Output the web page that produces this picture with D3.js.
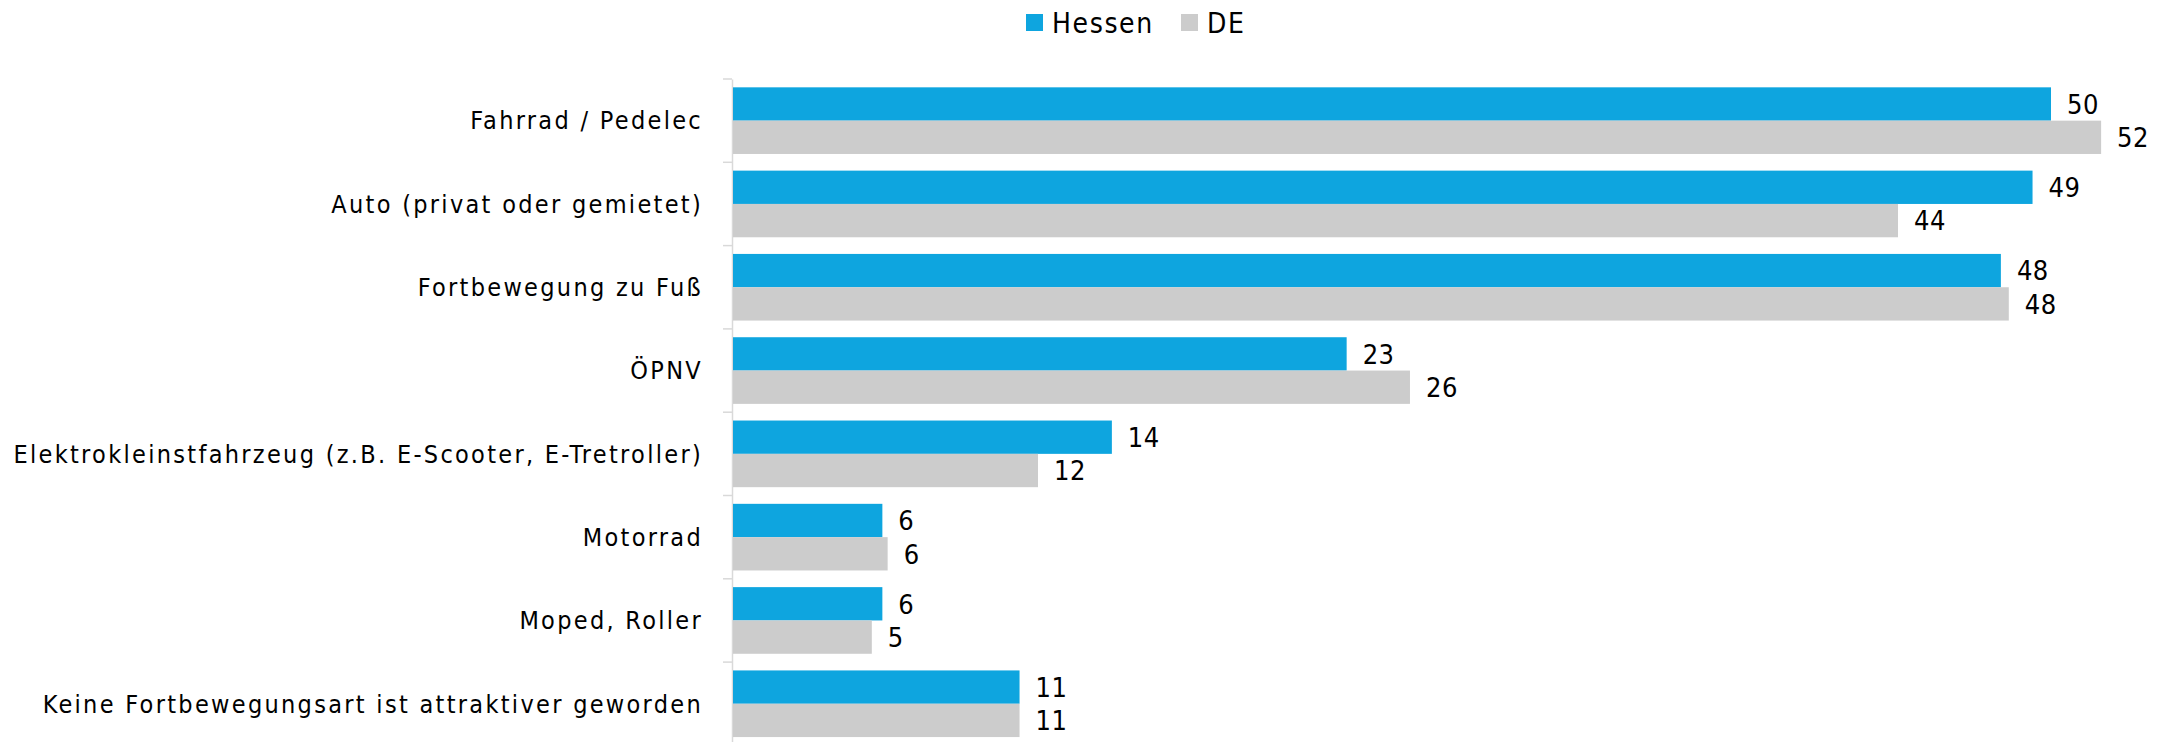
<!DOCTYPE html>
<html>
<head>
<meta charset="utf-8">
<script src="https://cdn.jsdelivr.net/npm/d3@7"></script>
<style>
  body { margin: 0; background: #fff; }
  text { font-family: "DejaVu Sans Condensed", "DejaVu Sans", sans-serif; font-stretch: condensed; fill: #000; }
</style>
</head>
<body>
<div id="chart"></div>
<script>
var categories = [
  "Fahrrad / Pedelec",
  "Auto (privat oder gemietet)",
  "Fortbewegung zu Fuß",
  "ÖPNV",
  "Elektrokleinstfahrzeug (z.B. E-Scooter, E-Tretroller)",
  "Motorrad",
  "Moped, Roller",
  "Keine Fortbewegungsart ist attraktiver geworden"
];
var seriesNames = ["Hessen", "DE"];
var hessen = [50.0, 49.3, 48.1, 23.3, 14.4, 5.7, 5.7, 10.9];
var de = [51.9, 44.2, 48.4, 25.7, 11.6, 5.9, 5.3, 10.9];
var colors = ["#0ea5df", "#cccccc"];

var w = 2166,
    h = 742,
    x0 = 732,
    plotTop = 79,
    band = 83.3;

var svg = d3.select("#chart").append("svg")
    .attr("width", w)
    .attr("height", h);

var x = d3.scaleLinear()
    .domain([0, 60])
    .range([x0, x0 + 60 * 26.38]);

var y = d3.scaleBand()
    .domain(categories)
    .range([plotTop, plotTop + band * categories.length]);

var ySub = d3.scaleBand()
    .domain(seriesNames)
    .range([band * 0.1, band * 0.9]);

var rows = categories.map(function(c, i) {
  return { cat: c, values: [
    { s: "Hessen", v: hessen[i] },
    { s: "DE", v: de[i] }
  ]};
});

// category axis: line plus ticks at the band edges
var axis = d3.axisLeft(y).tickSize(0).tickFormat("");
svg.append("g")
    .attr("transform", "translate(" + x0 + ",0)")
    .call(axis)
    .call(function(g) { g.select(".domain").attr("stroke", "#d9d9d9").attr("stroke-width", 1.5); });

svg.append("g").selectAll("line")
    .data(d3.range(categories.length + 1))
  .enter().append("line")
    .attr("x1", x0 - 9)
    .attr("x2", x0)
    .attr("y1", function(i) { return plotTop + i * band; })
    .attr("y2", function(i) { return plotTop + i * band; })
    .attr("stroke", "#d9d9d9")
    .attr("stroke-width", 1.5);

// category labels
svg.append("g").selectAll("text")
    .data(categories)
  .enter().append("text")
    .attr("class", "cat")
    .attr("x", x0 - 29)
    .attr("y", function(d) { return y(d) + band / 2; })
    .attr("dy", "0.35em")
    .attr("text-anchor", "end")
    .style("font-size", "25px")
    .style("letter-spacing", "2.3px")
    .text(function(d) { return d; });

var g = svg.append("g").selectAll("g")
    .data(rows)
  .enter().append("g")
    .attr("transform", function(d) { return "translate(0," + y(d.cat) + ")"; });

g.selectAll("rect")
    .data(function(d) { return d.values; })
  .enter().append("rect")
    .attr("x", x(0) + 1)
    .attr("y", function(d) { return ySub(d.s); })
    .attr("width", function(d) { return x(d.v) - x(0) - 1; })
    .attr("height", ySub.bandwidth())
    .attr("fill", function(d, i) { return colors[i]; });

g.selectAll("text")
    .data(function(d) { return d.values; })
  .enter().append("text")
    .attr("x", function(d) { return x(d.v) + 16; })
    .attr("y", function(d) { return ySub(d.s) + ySub.bandwidth() / 2; })
    .attr("dy", "0.36em")
    .style("font-size", "27px")
    .style("letter-spacing", "0.5px")
    .text(function(d) { return Math.round(d.v); });

// legend
var legendX = [1026, 1181];
var legend = svg.append("g").selectAll("g")
    .data(seriesNames)
  .enter().append("g")
    .attr("transform", function(d, i) { return "translate(" + legendX[i] + ",14)"; });

legend.append("rect")
    .attr("width", 17)
    .attr("height", 17)
    .attr("fill", function(d, i) { return colors[i]; });

legend.append("text")
    .attr("x", 26)
    .attr("y", 19)
    .style("font-size", "28px")
    .style("letter-spacing", "1.6px")
    .text(function(d) { return d; });
</script>
</body>
</html>
